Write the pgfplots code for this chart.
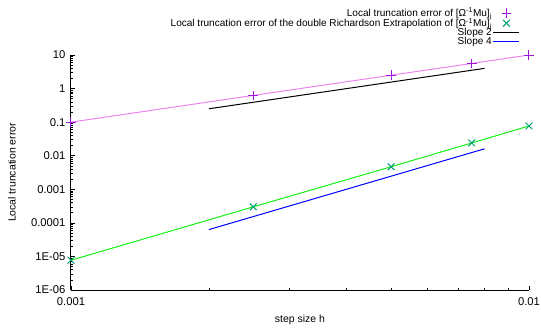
\documentclass[border=0pt]{standalone}
\usepackage{pgfplots}
\pgfplotsset{compat=1.18}
\usepackage{fontspec}
\setmainfont{Liberation Sans}
\definecolor{lmag}{RGB}{238,130,238}
\definecolor{markpurple}{RGB}{160,20,220}
\definecolor{gline}{RGB}{20,240,20}
\definecolor{gmark}{RGB}{0,158,115}
\definecolor{bline}{RGB}{0,0,255}
\pgfplotsset{
  markleg/.style={legend image code/.code={\draw[##1] plot coordinates {(13bp,0bp)};}},
  lineleg/.style={legend image code/.code={\draw[##1] (0bp,0bp) -- (26bp,0bp);}},
}
\begin{document}
\begin{tikzpicture}[x=1bp,y=1bp]
\useasboundingbox (-71,-37) rectangle (470,290);
\begin{axis}[at={(0,0)}, anchor=south west, scale only axis,
  width=458bp, height=235bp,
  xmode=log, ymode=log,
  xmin=0.001, xmax=0.01, ymin=1e-6, ymax=10,
  axis x line*=bottom, axis y line*=left,
  axis line style={line width=1bp},
  tick align=inside,
  major tick length=4bp, minor tick length=2bp,
  tick style={black, line width=0.6bp},
  xtickten={-3,-2}, xticklabels={0.001,0.01},
  ytickten={-6,-5,-4,-3,-2,-1,0,1},
  yticklabels={1E-06,1E-05,0.0001,0.001,0.01,0.1,1,10},
  /pgf/number format/assume math mode=true,
  tick label style={font=\fontsize{11.3}{12}\selectfont},
  xticklabel style={yshift=-4bp},
  yticklabel style={xshift=-2bp},
  label style={font=\fontsize{10.5}{12}\selectfont},
  xlabel={step size h}, ylabel={Local truncation error},
  xlabel style={at={(0.5,-0.128)}, anchor=center},
  ylabel style={at={(-0.129,0.5)}, anchor=center},
  legend cell align=right, legend plot pos=right,
  legend style={at={(0.987,1.213)}, anchor=north east, draw=none, fill=none,
    font=\fontsize{10.1}{10}\selectfont, row sep=-1.8bp,
    nodes={inner sep=1bp}},
  lineleg,
]
\addplot[lmag, line width=1bp, forget plot] coordinates {
  (0.001,0.1) (0.0025,0.625) (0.005,2.5) (0.0075,5.6) (0.01,10)};
\addplot[gline, line width=1bp, forget plot] coordinates {
  (0.001,7.7e-6) (0.0025,3.0e-4) (0.005,4.7e-3) (0.0075,0.0240) (0.01,0.077)};
\addplot[draw=markpurple, only marks, mark=+, mark size=4.8bp, line width=1bp,
  mark options={draw=markpurple, solid}, markleg] coordinates {
  (0.001,0.1) (0.0025,0.625) (0.005,2.5) (0.0075,5.6) (0.01,10)};
\addlegendentry{Local truncation error of [Ω\textsuperscript{-1}Mu]\textsubscript{j}}
\addplot[draw=gmark, only marks, mark=x, mark size=4.8bp, line width=1bp,
  mark options={draw=gmark, solid}, markleg] coordinates {
  (0.001,7.7e-6) (0.0025,3.0e-4) (0.005,4.7e-3) (0.0075,0.0240) (0.01,0.077)};
\addlegendentry{Local truncation error of the double Richardson Extrapolation of [Ω\textsuperscript{-1}Mu]\textsubscript{j}}
\addplot[black, line width=1bp] coordinates {(0.002,0.25) (0.008,4)};
\addlegendentry{Slope 2}
\addplot[bline, line width=1bp] coordinates {(0.002,6.3e-5) (0.008,0.0161)};
\addlegendentry{Slope 4}
\end{axis}
\end{tikzpicture}
\end{document}
